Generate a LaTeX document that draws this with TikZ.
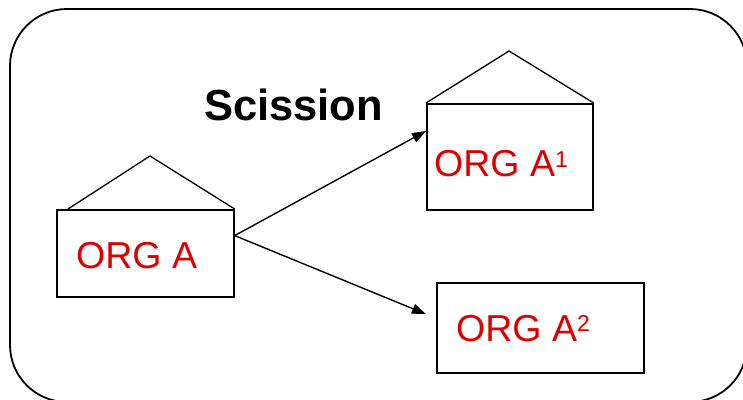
\documentclass[tikz,border=0pt]{standalone}
\usepackage{fontspec}
\setmainfont{Liberation Sans}
\usetikzlibrary{arrows.meta,calc}
\definecolor{orgred}{RGB}{220,0,0}
\tikzset{
  frame/.style={draw=black, line width=1.8pt, rounded corners=57pt},
  orgbox/.style={draw=black, line width=1.7pt, fill=white, rectangle, inner sep=0pt, anchor=north west},
  roof/.style={draw=black, line width=1.3pt, line join=miter},
  orglabel/.style={text=orgred, font=\fontsize{37.5}{40}\selectfont, anchor=base west, inner sep=0pt},
  conn/.style={draw=black, line width=1.4pt, -{Triangle[length=14pt,width=10pt]}},
  titlelabel/.style={font=\fontsize{43.5}{46}\selectfont\bfseries, anchor=base west, inner sep=0pt}
}
\begin{document}
\begin{tikzpicture}[x=1pt,y=-1pt]
\useasboundingbox (0,0) rectangle (743,399);
\path[frame] (10,9) rectangle (747,402);
% boxes
\node[orgbox, minimum width=177pt, minimum height=87pt] (orgA) at (56,209) {};
\node[orgbox, minimum width=166pt, minimum height=106pt] (orgA1) at (426,103) {};
\node[orgbox, minimum width=207pt, minimum height=90pt] (orgA2) at (436,282) {};
% roofs
\coordinate (apexA) at (150,156);
\coordinate (apexA1) at (509,51);
\draw[roof] ($(orgA.north west)+(12,0)$) -- (apexA) -- (orgA.north east);
\draw[roof] (orgA1.north west) -- (apexA1) -- (orgA1.north east);
% labels
\node[titlelabel] (title) at (204,120) {Scission};
\node[orglabel] (tA) at (76,268) {ORG A};
\node[orglabel] (tA1) at (434,176.5) {ORG A\raisebox{9pt}{\fontsize{23}{23}\selectfont 1}};
\node[orglabel] (tA2) at (456,341) {ORG A\raisebox{10pt}{\fontsize{23}{23}\selectfont 2}};
% connectors
\coordinate (src) at ($(orgA.north east)!0.3!(orgA.south east)$);
\draw[conn] (src) -- ($(orgA1.north west)!0.26!(orgA1.south west)$);
\draw[conn] (src) -- ([xshift=-10pt]$(orgA2.north west)!0.35!(orgA2.south west)$);
\end{tikzpicture}
\end{document}
